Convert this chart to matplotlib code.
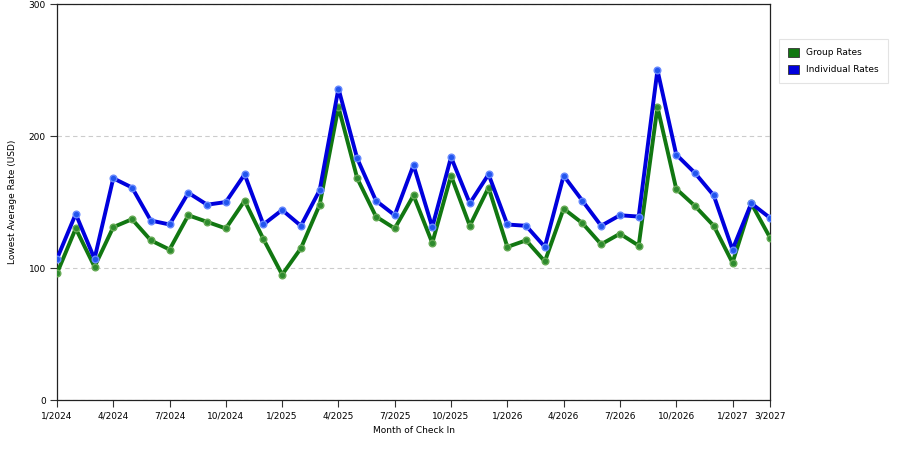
import matplotlib
matplotlib.use("Agg")
import matplotlib.pyplot as plt
from matplotlib.patches import Patch

months = ["1/2024", "2/2024", "3/2024", "4/2024", "5/2024", "6/2024", "7/2024", "8/2024",
          "9/2024", "10/2024", "11/2024", "12/2024", "1/2025", "2/2025", "3/2025", "4/2025",
          "5/2025", "6/2025", "7/2025", "8/2025", "9/2025", "10/2025", "11/2025", "12/2025",
          "1/2026", "2/2026", "3/2026", "4/2026", "5/2026", "6/2026", "7/2026", "8/2026",
          "9/2026", "10/2026", "11/2026", "12/2026", "1/2027", "2/2027", "3/2027"]

group_rates = [96, 130, 101, 131, 137, 121, 114, 140, 135, 130, 151, 122,
               95, 115, 148, 222, 168, 139, 130, 155, 119, 170, 132, 161,
               116, 121, 105, 145, 134, 118, 126, 117, 222, 160, 147, 132,
               104, 149, 123]

individual_rates = [107, 141, 107, 168, 161, 136, 133, 157, 148, 150, 171, 133,
                    144, 132, 159, 236, 183, 151, 140, 178, 131, 184, 149, 171,
                    133, 132, 116, 170, 151, 132, 140, 139, 250, 186, 172, 155,
                    114, 149, 138]

tick_labels = ["1/2024", "4/2024", "7/2024", "10/2024", "1/2025", "4/2025", "7/2025",
               "10/2025", "1/2026", "4/2026", "7/2026", "10/2026", "1/2027", "3/2027"]

plt.rcParams["font.family"] = ["DejaVu Sans"]
plt.rcParams["font.size"] = 6.5

fig = plt.figure(figsize=(9, 4.5), dpi=100)
ax = fig.add_axes([0.0633, 0.111, 0.7923, 0.880])

x = list(range(len(months)))
green = "#117711"
blue = "#0000dd"
ax.plot(x, group_rates, color=green, lw=2.8, marker="o", ms=4.8,
        mfc="#2e8b2e", mec="#66aa55", mew=1, zorder=3)
ax.plot(x, individual_rates, color=blue, lw=2.8, marker="o", ms=4.8,
        mfc="#2255ee", mec="#6688ff", mew=1, zorder=4)

ax.set_xlim(0, len(months) - 1)
ax.set_ylim(0, 300)
ax.set_yticks([0, 100, 200, 300])
tick_pos = [months.index(t) for t in tick_labels]
ax.set_xticks(tick_pos)
ax.set_xticklabels(tick_labels)
ax.tick_params(direction="out", length=5, width=0.8, color="#333333", pad=3)
ax.grid(axis="y", color="#cccccc", linestyle=(0, (4, 3)), lw=0.8)
ax.set_axisbelow(True)
for s in ax.spines.values():
    s.set_color("#222222")
    s.set_linewidth(0.9)

ax.set_xlabel("Month of Check In", labelpad=4)
ax.set_ylabel("Lowest Average Rate (USD)", labelpad=8)

handles = [Patch(facecolor=green, edgecolor="#333333", lw=0.6, label="Group Rates"),
           Patch(facecolor=blue, edgecolor="#333333", lw=0.6, label="Individual Rates")]
leg = fig.legend(handles=handles, loc="upper left", bbox_to_anchor=(0.861, 0.924),
                 frameon=True, fancybox=False, handlelength=1.2, handleheight=1.2,
                 borderpad=1.0, labelspacing=0.8, handletextpad=0.8, fontsize=6.5)
leg.get_frame().set_edgecolor("#dddddd")
leg.get_frame().set_linewidth(0.8)

fig.savefig("out.png", dpi=100)
